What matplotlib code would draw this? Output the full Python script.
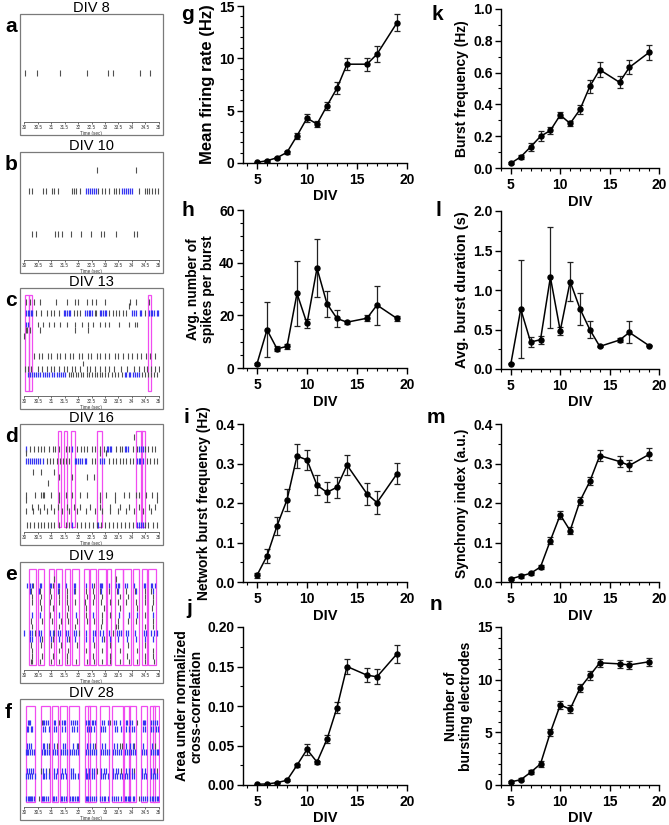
import numpy as np
import matplotlib.pyplot as plt
from matplotlib.patches import Rectangle
from matplotlib.ticker import MultipleLocator, FormatStrFormatter

plt.rcParams['font.family'] = ['Liberation Sans', 'DejaVu Sans']

W, H = 669, 825

# ---- summary data (days in vitro) ----
div = [5, 6, 7, 8, 9, 10, 11, 12, 13, 14, 16, 17, 19]

mfr = [0.06, 0.22, 0.5, 1.02, 2.6, 4.29, 3.72, 5.47, 7.15, 9.44, 9.44, 10.4, 13.4]
mfr_err = [0.05, 0.08, 0.1, 0.12, 0.28, 0.35, 0.27, 0.4, 0.55, 0.6, 0.63, 0.75, 0.8]

spb = [1.6, 14.5, 7.3, 8.2, 28.3, 16.9, 37.9, 24.4, 18.8, 17.4, 18.9, 23.9, 18.8]
spb_err = [0.3, 10.5, 1.0, 0.9, 12.5, 1.7, 11.0, 4.9, 3.1, 0.6, 1.2, 7.4, 0.8]

nbf = [0.017, 0.066, 0.142, 0.208, 0.319, 0.309, 0.245, 0.227, 0.24, 0.296, 0.223, 0.201, 0.274]
nbf_err = [0.006, 0.017, 0.023, 0.027, 0.03, 0.026, 0.025, 0.025, 0.027, 0.026, 0.027, 0.029, 0.027]

auc = [0.001, 0.0013, 0.003, 0.006, 0.025, 0.045, 0.029, 0.058, 0.098, 0.15, 0.139, 0.137, 0.166]
auc_err = [0.0005, 0.0005, 0.0008, 0.001, 0.002, 0.0065, 0.002, 0.005, 0.007, 0.009, 0.009, 0.0095, 0.011]

bf = [0.03, 0.07, 0.133, 0.199, 0.236, 0.333, 0.28, 0.368, 0.514, 0.618, 0.539, 0.633, 0.727]
bf_err = [0.005, 0.012, 0.025, 0.031, 0.021, 0.021, 0.017, 0.026, 0.042, 0.047, 0.037, 0.044, 0.045]

bdur = [0.067, 0.758, 0.341, 0.371, 1.162, 0.484, 1.107, 0.762, 0.497, 0.286, 0.366, 0.463, 0.295]
bdur_err = [0.005, 0.62, 0.063, 0.05, 0.64, 0.05, 0.25, 0.2, 0.105, 0.01, 0.025, 0.14, 0.01]

sync = [0.008, 0.015, 0.022, 0.038, 0.105, 0.17, 0.13, 0.205, 0.255, 0.32, 0.305, 0.295, 0.323]
sync_err = [0.002, 0.004, 0.004, 0.005, 0.008, 0.01, 0.008, 0.01, 0.01, 0.013, 0.013, 0.014, 0.015]

nbe = [0.3, 0.5, 1.2, 2.0, 5.0, 7.6, 7.2, 9.2, 10.4, 11.6, 11.5, 11.4, 11.7]
nbe_err = [0.1, 0.15, 0.2, 0.25, 0.35, 0.4, 0.4, 0.4, 0.4, 0.35, 0.35, 0.35, 0.4]

# ---- raster data: (electrode row, isolated spikes, burst spikes) ----
a_rows = [
    (7.5, [30.02, 30.46, 31.34, 32.32, 33.12, 33.29, 34.32, 34.66], []),
]
a_nb = []

b_rows = [
    (13.9, [32.72, 34.17], []),
    (10.6, [30.17, 30.29, 30.69, 30.79, 31.03, 31.12, 31.24, 31.76, 31.84, 31.94, 32.09,
            32.75, 32.88, 33.0, 33.16, 33.33, 33.42, 33.52, 34.27, 34.48, 34.55, 34.64,
            34.76, 34.88, 34.98],
     [32.31, 32.38, 32.45, 32.53, 32.6, 32.67, 33.64, 33.71, 33.79, 33.86, 33.93, 34.0]),
    (4.0, [30.27, 30.42, 31.14, 31.26, 31.4, 31.72, 32.12, 32.49, 32.85, 32.97, 33.4,
           34.09, 34.21], []),
]
b_nb = []

c_rows = [
    (14.5, [30.07, 30.22, 30.37, 30.59, 31.16, 31.59, 31.87, 31.98, 32.32, 32.5, 32.68,
            33.02, 33.94, 34.15, 34.63], []),
    (13.8, [33.9], []),
    (12.8, [30.43, 30.61, 30.85, 30.98, 31.1, 31.28, 31.83, 31.95, 32.07, 32.62, 32.68,
            33.17, 33.29, 33.41, 33.54, 33.66, 33.78, 34.51],
     [30.06, 30.12, 30.18, 30.24, 30.3, 31.46, 31.53, 31.6, 31.66, 31.71, 32.26, 32.33,
      32.4, 32.46, 32.5, 32.8, 32.86, 32.93, 33.0, 33.05, 34.0, 34.07, 34.15, 34.32,
      34.34, 34.63, 34.7, 34.77, 34.84, 34.92, 34.99]),
    (11.0, [30.49, 30.71, 30.91, 31.1, 31.34, 31.59, 31.89, 32.13, 32.38, 32.56, 32.8,
            33.02, 33.17, 33.51, 33.9, 34.12, 34.21], [30.06, 30.12]),
    (10.2, [30.05, 30.1, 30.2, 30.57, 31.89, 32.38], []),
    (9.2, [30.0], []),
    (6.1, [30.36, 30.55, 30.66, 30.88, 31.01, 31.2, 31.33, 31.52, 31.69, 31.82, 32.03,
           32.15, 32.36, 32.49, 32.7, 32.83, 33.02, 33.16, 33.37, 33.48, 33.66, 33.86,
           33.99, 34.19, 34.33, 34.52, 34.67, 34.86], []),
    (5.0, [32.2], []),
    (4.2, [30.02, 30.12, 30.24, 30.49, 30.67, 30.85, 30.98, 31.1, 31.28, 31.46, 31.59,
           31.77, 31.89, 32.07, 32.32, 32.44, 32.62, 32.8, 33.02, 33.17, 33.35, 33.6,
           33.84, 34.07, 34.27, 34.44, 34.57, 34.7, 34.88, 35.0], []),
    (3.3, [31.65, 31.74, 31.82, 31.92, 32.0, 32.1, 32.2, 32.32, 32.41, 32.5, 32.62, 32.7,
           32.8, 32.9, 33.02, 33.13, 33.25, 33.38, 33.5, 33.62, 34.39, 34.5, 34.62,
           34.72, 34.84, 34.95],
     [30.12, 30.2, 30.27, 30.35, 30.44, 30.5, 30.6, 30.68, 30.76, 30.85, 30.93, 31.02,
      31.1, 31.2, 31.28, 31.36, 31.45, 31.53, 33.73, 33.8, 33.88, 33.95, 34.04, 34.12,
      34.2, 34.27]),
]
c_nb = [(30.02, 30.18), (30.18, 30.3), (34.59, 34.71)]

d_rows = [
    (14.6, [34.09], []),
    (12.8, [30.22, 30.36, 30.5, 30.62, 30.75, 30.9, 31.05, 31.15, 31.3, 31.55, 31.66,
            31.95, 32.1, 32.22, 32.35, 32.5, 32.62, 32.8, 32.95, 33.4, 33.55, 33.62,
            34.05, 34.2, 34.5, 34.62, 34.75, 34.88],
     [30.05, 31.78, 33.08, 33.13, 33.18, 33.24, 33.73, 33.79, 33.85, 34.27, 34.33, 34.4]),
    (12.1, [30.05, 32.8, 33.05], []),
    (10.9, [30.85, 30.97, 31.08, 31.2, 31.32, 31.45, 31.55, 31.65, 32.5, 32.62, 33.15,
            33.3, 33.42, 33.55, 33.68, 33.8, 33.95, 34.05, 34.55, 34.68, 34.82, 34.95],
     [30.05, 30.12, 30.2, 30.27, 30.35, 30.42, 30.5, 30.57, 30.7, 31.87, 31.94, 32.0,
      32.08, 32.16, 32.24, 32.3, 32.8, 32.88, 32.95, 34.18, 34.25, 34.32, 34.4]),
    (9.2, [30.33, 30.63, 31.12], []),
    (8.4, [31.3, 31.78, 32.33, 32.58], []),
    (7.5, [30.87], []),
    (5.7, [30.05, 30.39, 30.63, 30.69, 30.75, 31.0, 31.3, 31.55, 31.78, 32.08, 32.33,
           32.8, 33.05, 33.36, 33.72, 33.9, 34.15, 34.27, 34.52, 34.76, 34.94], []),
    (4.9, [30.05, 31.3, 32.8, 33.36, 34.94], []),
    (3.9, [30.27, 30.51, 30.75, 31.0, 31.24, 31.6, 31.85, 32.09, 32.45, 32.82, 33.18,
           33.55, 33.9, 34.27, 34.63, 34.88], []),
    (3.2, [30.05, 30.33, 30.6, 30.85, 31.12, 31.4, 31.65, 31.95, 32.3, 32.62, 32.9,
           33.2, 33.5, 33.8, 34.1, 34.4, 34.7], []),
    (1.1, [30.1, 30.22, 30.36, 30.5, 30.62, 30.75, 30.88, 31.0, 31.12, 31.3, 31.55,
           31.66, 31.95, 32.1, 32.25, 32.4, 32.55, 32.7, 32.85, 33.0, 33.15, 33.3,
           33.45, 33.6, 33.75, 33.9, 34.05, 34.5, 34.62, 34.78, 34.92],
     [31.78, 32.75, 34.2, 34.27, 34.33, 34.4]),
]
d_nb = [(31.26, 31.36), (31.48, 31.6), (31.72, 31.87), (32.69, 32.88),
        (34.17, 34.39), (34.33, 34.48)]

e_rows = [
    (14.0, [31.12, 33.4], []),
    (13.0, [30.32, 31.05, 32.6],
     [30.1, 30.22, 30.28, 30.57, 30.62, 30.95, 31.0, 31.25, 31.3, 31.55, 31.85, 31.9,
      32.28, 32.52, 32.8, 32.85, 32.9, 33.15, 33.42, 33.47, 33.52, 33.75, 33.82, 34.1,
      34.45, 34.5, 34.7, 34.75, 34.85]),
    (12.1, [30.25, 30.6, 30.97, 31.28, 31.58, 31.88, 32.3, 32.55, 32.8, 33.15, 33.45,
            33.78, 34.12, 34.48, 34.72],
     [30.22, 30.55, 31.25, 31.85, 32.85, 33.5, 34.15, 34.78]),
    (11.3, [30.28, 30.62, 31.0, 31.3, 31.6, 32.35, 32.6, 32.9, 33.55, 33.85, 34.5, 34.78], []),
    (10.4, [30.3, 30.58, 30.95, 31.3, 31.6, 31.9, 32.25, 32.55, 32.85, 33.18, 33.5,
            33.8, 34.15, 34.5, 34.8], []),
    (9.5, [30.62, 31.05, 31.62, 32.3, 32.95, 33.55, 34.2, 34.75], []),
    (8.5, [30.95, 31.6, 32.3, 32.9, 33.18, 34.5],
     [30.28, 30.6, 31.3, 31.92, 32.55, 33.52, 33.9, 34.2, 34.78]),
    (7.6, [30.25, 30.65, 31.02, 31.35, 31.62, 31.95, 32.32, 32.58, 32.9, 33.5, 33.85,
           34.15, 34.8], []),
    (6.7, [30.3, 31.28, 31.9, 32.85, 33.42, 33.48, 34.5, 34.78], []),
    (5.7, [30.4, 31.1, 32.05, 33.3],
     [30.0, 30.22, 30.3, 30.55, 30.62, 30.95, 31.05, 31.25, 31.32, 31.55, 31.62, 31.85,
      31.92, 32.3, 32.55, 32.62, 32.82, 32.92, 33.15, 33.45, 33.52, 33.6, 33.78, 33.85,
      34.12, 34.45, 34.52, 34.72, 34.82, 34.95]),
    (4.8, [30.65, 31.05, 31.65, 32.95],
     [30.2, 30.28, 30.58, 30.98, 31.3, 31.58, 31.9, 32.3, 32.55, 32.88, 33.2, 33.5,
      33.82, 34.15, 34.5, 34.8]),
    (3.9, [30.25, 30.62, 31.0, 31.35, 31.95, 32.6, 33.2, 33.85, 34.5], []),
    (3.0, [30.3, 31.3, 31.62, 32.3, 32.9, 33.55, 34.2, 34.8], []),
    (2.2, [30.28, 30.65, 31.05, 31.6, 32.55, 33.18, 33.82, 34.48, 34.78], []),
    (1.3, [30.25, 30.3, 30.6, 30.98, 31.3, 31.6, 31.92, 32.32, 32.6, 32.9, 33.2, 33.55,
           33.88, 34.18, 34.5, 34.82], []),
]
e_nb = [(30.17, 30.42), (30.51, 30.73), (30.9, 31.12), (31.18, 31.42), (31.5, 31.7),
        (31.78, 32.03), (32.21, 32.39), (32.45, 32.65), (32.73, 33.03), (33.09, 33.24),
        (33.36, 33.67), (33.69, 33.97), (34.05, 34.27), (34.39, 34.58), (34.61, 34.9)]

f_rows = [
    (13.0, [30.65, 31.3, 33.2, 34.2],
     [30.12, 30.17, 30.22, 30.68, 30.75, 30.82, 30.88, 31.1, 31.15, 31.4, 31.46, 31.52,
      31.75, 31.8, 31.9, 31.97, 32.3, 32.36, 32.42, 32.5, 32.56, 32.62, 32.88, 32.95,
      33.1, 33.35, 33.42, 33.55, 33.78, 33.84, 33.95, 34.02, 34.4, 34.45, 34.5, 34.72,
      34.8, 34.86, 34.92]),
    (12.0, [],
     [30.1, 30.15, 30.25, 30.3, 30.7, 30.78, 30.9, 31.12, 31.18, 31.42, 31.5, 31.78,
      31.85, 31.95, 32.32, 32.4, 32.48, 32.58, 32.85, 32.92, 33.0, 33.38, 33.45, 33.6,
      33.8, 33.9, 34.0, 34.08, 34.42, 34.5, 34.7, 34.78, 34.9, 34.98]),
    (9.4, [30.92, 31.22, 32.0, 32.62, 33.55, 33.62, 34.1, 34.85],
     [30.1, 30.18, 30.25, 30.7, 30.75, 30.85, 31.1, 31.45, 31.52, 31.8, 31.95, 32.35,
      32.45, 32.55, 32.9, 33.0, 33.35, 33.45, 33.8, 33.95, 34.05, 34.42, 34.75]),
    (8.4, [],
     [30.05, 30.1, 30.15, 30.2, 30.28, 30.35, 30.65, 30.72, 30.78, 30.85, 30.92, 31.08,
      31.15, 31.22, 31.38, 31.45, 31.52, 31.58, 31.7, 31.78, 31.85, 31.92, 32.0, 32.3,
      32.38, 32.45, 32.52, 32.6, 32.66, 32.85, 32.92, 33.0, 33.08, 33.15, 33.3, 33.38,
      33.45, 33.52, 33.6, 33.75, 33.82, 33.9, 33.97, 34.05, 34.12, 34.38, 34.45, 34.52,
      34.7, 34.78, 34.85, 34.92, 34.98]),
    (5.6, [30.62, 30.9, 32.7, 33.6, 34.1, 34.95],
     [30.1, 30.18, 30.25, 30.32, 30.7, 30.8, 31.1, 31.2, 31.4, 31.5, 31.75, 31.82, 32.3,
      32.4, 32.5, 32.6, 32.85, 32.95, 33.05, 33.3, 33.4, 33.5, 33.78, 33.9, 34.0, 34.38,
      34.48, 34.72, 34.82]),
    (4.8, [],
     [30.08, 30.15, 30.22, 30.3, 30.38, 30.68, 30.75, 30.82, 30.9, 31.1, 31.18, 31.38,
      31.45, 31.55, 31.72, 31.8, 31.9, 32.0, 32.28, 32.35, 32.42, 32.5, 32.58, 32.85,
      32.92, 33.0, 33.1, 33.3, 33.38, 33.45, 33.55, 33.62, 33.75, 33.82, 33.9, 34.0,
      34.08, 34.38, 34.45, 34.52, 34.7, 34.78, 34.85, 34.95]),
    (1.3, [30.55, 34.25],
     [30.08, 30.12, 30.16, 30.2, 30.25, 30.3, 30.35, 30.65, 30.7, 30.75, 30.8, 30.88,
      31.08, 31.12, 31.18, 31.38, 31.42, 31.48, 31.55, 31.7, 31.76, 31.82, 31.88, 31.95,
      32.0, 32.28, 32.32, 32.38, 32.45, 32.52, 32.6, 32.65, 32.82, 32.88, 32.95, 33.02,
      33.1, 33.28, 33.35, 33.42, 33.5, 33.58, 33.75, 33.8, 33.85, 33.9, 33.95, 34.05,
      34.1, 34.36, 34.42, 34.5, 34.55, 34.68, 34.74, 34.8, 34.86, 34.92, 34.98]),
]
f_nb = [(30.06, 30.39), (30.61, 30.95), (31.04, 31.24), (31.34, 31.59), (31.67, 32.05),
        (32.26, 32.46), (32.38, 32.68), (32.8, 33.17), (33.26, 33.66), (33.72, 33.93),
        (33.88, 34.15), (34.33, 34.57), (34.66, 34.88), (34.78, 35.02)]

time_ticks = [30, 30.5, 31, 31.5, 32, 32.5, 33, 33.5, 34, 34.5, 35]


def px_rect(l, t, r, b):
    return [l / W, 1 - b / H, (r - l) / W, (b - t) / H]


fig = plt.figure(figsize=(W / 100, H / 100), dpi=100)


def raster(top, title, letter, rows, nb):
    frame = Rectangle((20 / W, 1 - (top + 121) / H), 143 / W, 121 / H,
                      transform=fig.transFigure, fill=False, ec='#7a7a7a', lw=0.9)
    fig.add_artist(frame)
    ax = fig.add_axes(px_rect(23, top + 4, 160, top + 108))
    for y, iso, burst in rows:
        if iso:
            ax.vlines(iso, y - 0.45, y + 0.45, color='#505050', lw=0.8)
        if burst:
            ax.vlines(burst, y - 0.45, y + 0.45, color='#3434f2', lw=0.9)
    for t0, t1 in nb:
        ax.add_patch(Rectangle((t0, 0.7), t1 - t0, 14.8, fill=False,
                               ec='#f04cf0', lw=0.9))
    ax.set_xlim(29.95, 35.05)
    ax.set_ylim(0, 16)
    for s in ['top', 'right', 'left']:
        ax.spines[s].set_visible(False)
    ax.spines['bottom'].set_color('#555555')
    ax.spines['bottom'].set_linewidth(0.6)
    ax.spines['bottom'].set_bounds(30, 35)
    ax.set_yticks([])
    ax.set_xticks(time_ticks)
    ax.set_xticklabels([f'{t:g}' for t in time_ticks])
    ax.tick_params(axis='x', labelsize=3.3, length=1.5, width=0.5, pad=0.8,
                   colors='#333333')
    ax.set_xlabel('Time (sec)', fontsize=3.3, labelpad=0.5, color='#333333')
    fig.text(91.5 / W, 1 - (top - 6) / H, title, ha='center', va='center',
             fontsize=10.5)
    fig.text(5 / W, 1 - (top + 13) / H, letter, ha='left', va='center',
             fontsize=15, fontweight='bold')


raster(14, 'DIV 8', 'a', a_rows, a_nb)
raster(152, 'DIV 10', 'b', b_rows, b_nb)
raster(288, 'DIV 13', 'c', c_rows, c_nb)
raster(424, 'DIV 16', 'd', d_rows, d_nb)
raster(562, 'DIV 19', 'e', e_rows, e_nb)
raster(699, 'DIV 28', 'f', f_rows, f_nb)


def line_panel(box, xmin, vals, errs, ylabel, ymax, major, minor, fmt, letter, lpos,
               lsize=10):
    ax = fig.add_axes(px_rect(*box))
    ax.errorbar(div, vals, yerr=errs, fmt='-o', color='black', ecolor='#222222',
                ms=3.6, lw=1.1, elinewidth=0.9, capsize=2.2, capthick=0.9)
    ax.set_xlim(xmin, 20)
    ax.set_ylim(0, ymax)
    ax.xaxis.set_major_locator(MultipleLocator(5))
    ax.xaxis.set_minor_locator(MultipleLocator(1))
    ax.yaxis.set_major_locator(MultipleLocator(major))
    ax.yaxis.set_minor_locator(MultipleLocator(minor))
    ax.yaxis.set_major_formatter(FormatStrFormatter(fmt))
    ax.spines['top'].set_visible(False)
    ax.spines['right'].set_visible(False)
    ax.spines['left'].set_linewidth(1.0)
    ax.spines['bottom'].set_linewidth(1.0)
    ax.tick_params(which='major', length=4, width=1.0, labelsize=10, pad=2)
    ax.tick_params(axis='x', which='major', pad=3)
    ax.tick_params(which='minor', length=2.2, width=0.8)
    for lab in ax.get_xticklabels() + ax.get_yticklabels():
        lab.set_fontweight('bold')
    ax.set_xlabel('DIV', fontsize=10.5, fontweight='bold', labelpad=2)
    ax.set_ylabel(ylabel, fontsize=lsize, fontweight='bold', labelpad=3,
                  linespacing=1.05)
    fig.text(lpos[0] / W, 1 - lpos[1] / H, letter, ha='center', va='center',
             fontsize=15, fontweight='bold')
    return ax


line_panel((243, 6, 407, 163), 3.6, mfr, mfr_err, 'Mean firing rate (Hz)',
           15, 5, 1, '%d', 'g', (188, 14), lsize=12)
line_panel((243, 210, 407, 368), 3.6, spb, spb_err, 'Avg. number of\nspikes per burst',
           60, 20, 5, '%d', 'h', (188, 210))
line_panel((243, 424, 407, 582), 3.6, nbf, nbf_err, 'Network burst frequency (Hz)',
           0.4, 0.1, 0.05, '%.1f', 'i', (186, 417))
line_panel((243, 627, 407, 785), 3.6, auc, auc_err,
           'Area under normalized\ncross-correlation',
           0.2, 0.05, 0.025, '%.2f', 'j', (189, 608))
line_panel((501, 9, 659, 168), 4.0, bf, bf_err, 'Burst frequency (Hz)',
           1.0, 0.2, 0.1, '%.1f', 'k', (437, 14))
line_panel((501, 211, 659, 369), 4.0, bdur, bdur_err, 'Avg. burst duration (s)',
           2.0, 0.5, 0.25, '%.1f', 'l', (438, 210), lsize=10.5)
line_panel((501, 424, 659, 582), 4.0, sync, sync_err, 'Synchrony index (a.u.)',
           0.4, 0.1, 0.05, '%.1f', 'm', (436, 417))
line_panel((501, 627, 659, 785), 4.0, nbe, nbe_err,
           'Number of\nbursting electrodes',
           15, 5, 1, '%d', 'n', (436, 605))

fig.savefig('out.png', dpi=100)
